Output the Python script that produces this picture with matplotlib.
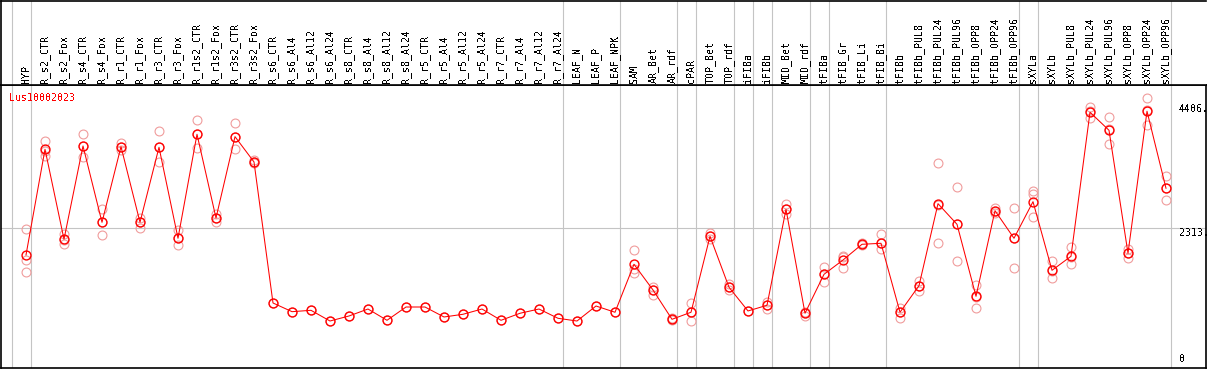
import numpy as np
import matplotlib
matplotlib.use('Agg')
import matplotlib.pyplot as plt
from matplotlib.transforms import blended_transform_factory

plt.rcParams['text.antialiased'] = False

gene = 'Lus10002023'

samples = ['HYP', 'R_s2_CTR', 'R_s2_Fox', 'R_s4_CTR', 'R_s4_Fox', 'R_r1_CTR', 'R_r1_Fox',
           'R_r3_CTR', 'R_r3_Fox', 'R_r1s2_CTR', 'R_r1s2_Fox', 'R_r3s2_CTR', 'R_r3s2_Fox',
           'R_s6_CTR', 'R_s6_Al4', 'R_s6_Al12', 'R_s6_Al24', 'R_s8_CTR', 'R_s8_Al4',
           'R_s8_Al12', 'R_s8_Al24', 'R_r5_CTR', 'R_r5_Al4', 'R_r5_Al12', 'R_r5_Al24',
           'R_r7_CTR', 'R_r7_Al4', 'R_r7_Al12', 'R_r7_Al24', 'LEAF_N', 'LEAF_P', 'LEAF_NPK',
           'SAM', 'AR_Bet', 'AR_rdf', 'cPAR', 'TOP_Bet', 'TOP_rdf', 'iFIBa', 'iFIBb',
           'MID_Bet', 'MID_rdf', 'tFIBa', 'tFIB_Gr', 'tFIB_Li', 'tFIB_Bi', 'tFIBb',
           'tFIBb_PUL8', 'tFIBb_PUL24', 'tFIBb_PUL96', 'tFIBb_OPP8', 'tFIBb_OPP24',
           'tFIBb_OPP96', 'sXYLa', 'sXYLb', 'sXYLb_PUL8', 'sXYLb_PUL24', 'sXYLb_PUL96',
           'sXYLb_OPP8', 'sXYLb_OPP24', 'sXYLb_OPP96']

# mean expression per sample
means = [1851, 3640, 2117, 3695, 2404, 3684, 2404, 3673, 2134, 3893, 2477, 3853, 3425,
         1039, 892, 915, 734, 819, 937, 746, 971, 971, 802, 848, 937, 746, 865, 937, 780,
         734, 988, 882,
         1694, 1259, 763, 882, 2167, 1305, 904, 1000, 2624, 865, 1524, 1766, 2032, 2049,
         882, 1332, 2719, 2370, 1152, 2601, 2134,
         2753, 1592, 1829, 4266, 3961, 1880, 4283, 2980]

# individual replicates
replicates = [
    [2291, 1766, 1558], [3780, 3611, 3526], [2206, 2105, 2037], [3898, 3695, 3504],
    [2634, 2404, 2184], [3751, 3684, 3628], [2472, 2404, 2313], [3944, 3673, 3425],
    [2274, 2134, 2020], [4130, 3893, 3656], [2545, 2477, 2404], [4085, 3853, 3640],
    [3400, 3425, 3450],
    [1039], [892], [915], [734], [819], [937], [746], [971], [971], [802], [848], [937],
    [746], [865], [937], [780], [734], [988], [882],
    [1931, 1609, 1541], [1315, 1259, 1169], [780, 763, 751], [1034, 882, 739],
    [2228, 2167, 2122], [1355, 1305, 1259], [904], [1061, 1000, 932],
    [2719, 2624, 2550], [887, 865, 824], [1653, 1524, 1389], [1839, 1817, 1636],
    [2015, 2032, 2049], [2206, 2049, 1947], [959, 882, 790], [1411, 1332, 1247],
    [3403, 2049, 2705], [2997, 1744, 2369], [1349, 959, 1148], [2641, 2601, 2561],
    [2641, 1626, 2135], [2939, 2883, 2489], [1744, 1457, 1575], [1981, 1694, 1812],
    [4355, 4164, 4279], [4181, 3724, 3978], [1953, 1805, 1882], [4502, 4046, 4301],
    [3183, 2777, 2980],
]

# number of samples in each tissue block (separated by vertical lines)
group_sizes = [1, 28, 3, 3, 1, 2, 1, 1, 2, 1, 3, 7, 1, 7]

y_labels = [4406, 2313, 0]

W, H = 1209, 370
fig = plt.figure(figsize=(W / 100, H / 100), dpi=100)


def px_box(x0, y0, x1, y1):
    return [x0 / W, 1 - y1 / H, (x1 - x0) / W, (y1 - y0) / H]


ax = fig.add_axes(px_box(1, 85, 1206, 368))
hdr = fig.add_axes(px_box(1, 0.5, 1206, 85), sharex=ax)

mono = 'DejaVu Sans Mono'
grid_c = '#c4c4c4'
red = '#ff0000'
pink = '#f09c9c'

x = np.arange(len(samples))
ax.set_xlim(-25 / 19, 1180 / 19)
ax.set_ylim(-61, 4727)
hdr.set_ylim(0, 85)

# block separators
bounds = np.concatenate([[-1], np.cumsum(group_sizes) - 1]) + 5 / 19
for a in (ax, hdr):
    for b in bounds:
        a.axvline(b, color=grid_c, lw=0.8, zorder=0)
    a.set_xticks([])
    a.set_yticks([])
    for s in a.spines.values():
        s.set_color('black')
        s.set_linewidth(1.2)
hdr.spines['right'].set_visible(False)

ax.axhline(2313, color=grid_c, lw=0.8, zorder=0)

for i, name in enumerate(samples):
    hdr.text(i, 2, name, rotation=90, ha='center', va='bottom',
             fontsize=7.2, family=mono)

for i, reps in enumerate(replicates):
    ax.plot([i] * len(reps), reps, 'o', ms=6.4, mfc='none', mec=pink, mew=0.8,
            zorder=2)

ax.plot(x, means, '-', color=red, lw=0.75, zorder=3)
ax.plot(x, means, 'o', ms=6.4, mfc='none', mec=red, mew=1.0, zorder=4)

tr = blended_transform_factory(ax.transAxes, ax.transData)
for v in y_labels:
    lab = '%d.' % v if v else '0'
    ax.text(0.9775, v, lab, transform=tr, ha='left',
            va='bottom' if v == 0 else 'top', fontsize=7.2, family=mono)

ax.text(0.0065, 0.972, gene, transform=ax.transAxes, ha='left', va='top',
        color=red, fontsize=7.2, family=mono)

fig.savefig('out.png', dpi=100)
